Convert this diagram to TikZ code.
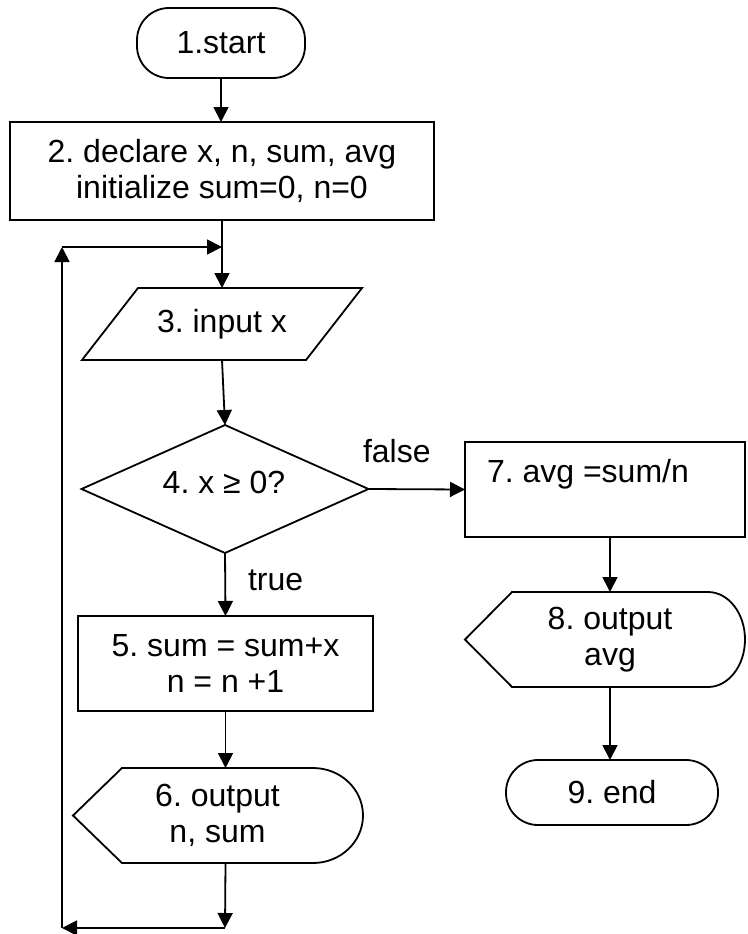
\documentclass[tikz,border=0pt]{standalone}
\usepackage{fontspec}
\setmainfont{Liberation Sans}
\usetikzlibrary{arrows.meta,calc}
\frenchspacing
\begin{document}
\begin{tikzpicture}[x=1pt,y=-1pt,
  every node/.style={font=\fontsize{32}{36}\selectfont, inner sep=0pt, outer sep=0pt},
  ln/.style={line width=1.8pt},
  arr/.style={line width=1.8pt, -{Triangle[length=15pt,width=15pt]}},
  boxnode/.style={draw, line width=1.8pt, align=center},
  termnode/.style={draw, line width=1.8pt, rounded corners=32pt},
  plain/.style={align=center}
]
\useasboundingbox (0,0) rectangle (747,934);

% 1 start
\node[termnode, minimum width=168pt, minimum height=70pt] (n1) at (221,43) {1.start};
% 2 declare
\node[boxnode, minimum width=424pt, minimum height=98pt] (n2) at (222,171) {2. declare x, n, sum, avg\\initialize sum=0, n=0};
% 3 input (parallelogram)
\node[plain, minimum width=168pt, minimum height=72pt] (n3) at (222,324) {3. input x};
\draw[ln] (n3.north west) -- ($(n3.north east)+(56,0)$) -- (n3.south east) -- ($(n3.south west)+(-56,0)$) -- cycle;
% 4 decision
\node[minimum width=287pt, minimum height=128pt] (n4) at (225,489) {};
\draw[ln] (n4.north) -- (n4.east) -- (n4.south) -- (n4.west) -- cycle;
\node (t4) at (224,482) {4. x ≥ 0?};
% 5 process
\node[boxnode, minimum width=295pt, minimum height=95pt] (n5) at (225.5,663.5) {5. sum = sum+x\\n = n +1};
% 6 output (display)
\node[plain, minimum width=191pt, minimum height=95pt] (n6) at (217.5,815.5) {6. output\\n, sum};
\draw[ln] (n6.north west) -- (n6.north east) arc[start angle=90, end angle=-90, x radius=50pt, y radius=47.5pt] -- (n6.south west) -- ($(n6.west)+(-49,0)$) -- cycle;
% 7 avg
\node[draw, ln, minimum width=280pt, minimum height=95pt] (n7) at (605,489.5) {};
\node[anchor=base west] (t7) at (487,482) {7. avg =sum/n};
% 8 output avg (display)
\node[plain, minimum width=196pt, minimum height=95pt] (n8) at (610,639.5) {8. output\\avg};
\draw[ln] (n8.north west) -- (n8.north east) arc[start angle=90, end angle=-90, x radius=37pt, y radius=47.5pt] -- (n8.south west) -- ($(n8.west)+(-47,0)$) -- cycle;
% 9 end
\node[termnode, minimum width=212pt, minimum height=65pt] (n9) at (612,792.5) {9. end};

% labels
\node[anchor=base west] (lf) at (363,462) {false};
\node[anchor=base west] (lt) at (248,590) {true};

% loop coordinates
\coordinate (c1) at (225,928);
\coordinate (c2) at (62,928);
\coordinate (c3) at (62,247);
\coordinate (c4) at (222,247);

% connectors
\draw[arr] (n1.south) -- (n1.south |- n2.north);
\draw[arr] (n2.south) -- (n3.north);
\draw[arr] (n3.south) -- (n4.north);
\draw[arr] (n4.east) -- (n7.west);
\draw[arr] (n4.south) -- (n5.north);
\draw[arr] (n5.south) -- (n5.south |- n6.north);
\draw[arr] (n5.south |- n6.south) -- (c1);
\draw[arr] (c1) -- (c2);
\draw[arr] (c2) -- (c3);
\draw[arr] (c3) -- (c4);
\draw[arr] (n7.south -| n8.north) -- (n8.north);
\draw[arr] (n8.south) -- (n8.south |- n9.north);
\end{tikzpicture}
\end{document}
